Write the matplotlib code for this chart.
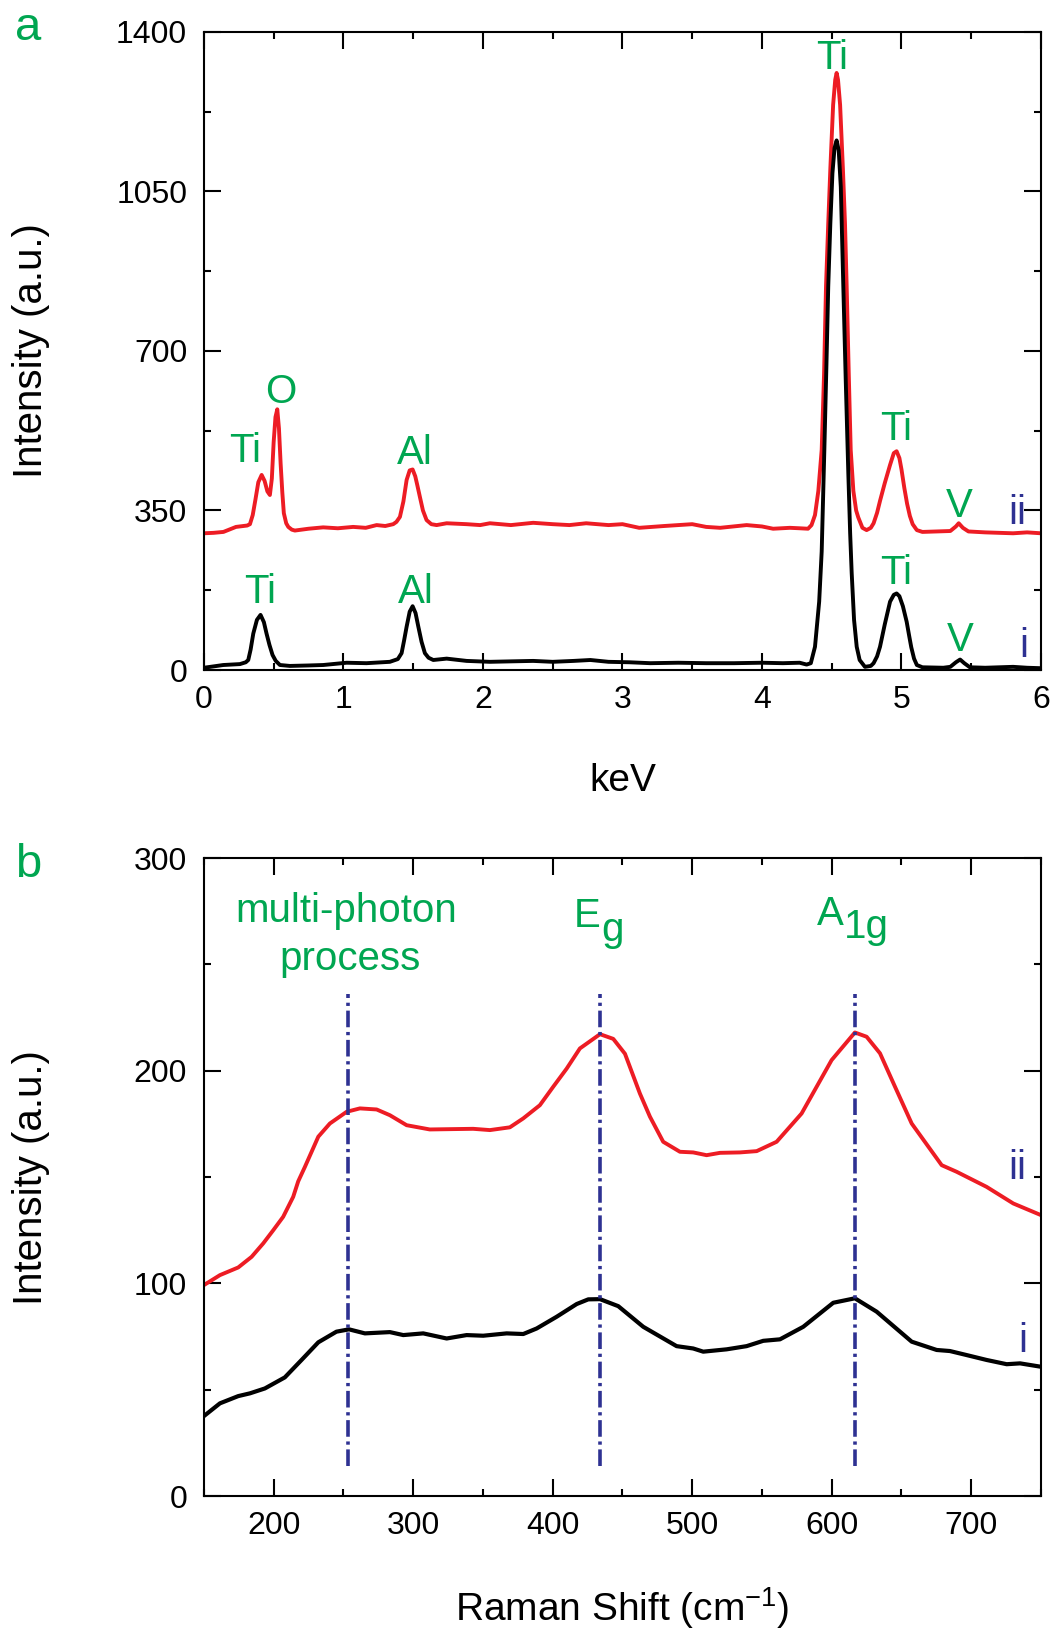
import numpy as np
import matplotlib.pyplot as plt
from matplotlib.ticker import MultipleLocator

plt.rcParams['font.family'] = ['Liberation Sans', 'DejaVu Sans']
plt.rcParams['mathtext.fontset'] = 'custom'
plt.rcParams['mathtext.rm'] = 'Liberation Sans'
plt.rcParams['mathtext.it'] = 'Liberation Sans:italic'
plt.rcParams['mathtext.bf'] = 'Liberation Sans:bold'
plt.rcParams['axes.unicode_minus'] = False

RED = '#ED1C24'
GREEN = '#00A651'
NAVY = '#2E3192'

# --- EDS spectra, sample ii (red) and sample i (black) ---
eds_kev_ii = [0.00, 0.07, 0.14, 0.23, 0.31, 0.33, 0.35, 0.37, 0.39, 0.414, 0.435,
              0.455, 0.473, 0.487, 0.50, 0.513, 0.526, 0.538, 0.55, 0.562, 0.573,
              0.59, 0.605, 0.63, 0.652, 0.75, 0.855, 0.96, 1.07, 1.16, 1.238, 1.30,
              1.357, 1.38, 1.405, 1.43, 1.453, 1.475, 1.496, 1.515, 1.53, 1.548,
              1.57, 1.596, 1.63, 1.668, 1.74, 1.883, 1.98, 2.05, 2.2, 2.36, 2.5,
              2.62, 2.74, 2.9, 3.0, 3.12, 3.3, 3.5, 3.6, 3.7, 3.89, 4.0, 4.08,
              4.2, 4.27, 4.33, 4.355, 4.38, 4.404, 4.428, 4.445, 4.459, 4.475,
              4.49, 4.51, 4.525, 4.535, 4.545, 4.56, 4.58, 4.595, 4.607, 4.622,
              4.636, 4.655, 4.675, 4.69, 4.72, 4.75, 4.78, 4.80, 4.825, 4.846,
              4.88, 4.918, 4.945, 4.965, 4.985, 5.00, 5.02, 5.04, 5.06, 5.08,
              5.11, 5.15, 5.25, 5.35, 5.39, 5.41, 5.44, 5.48, 5.6, 5.7, 5.8,
              5.9, 6.0]
eds_ii = [300, 301, 303, 314, 317, 320, 340, 375, 412, 428, 415,
          392, 384, 420, 500, 555, 572, 530, 453, 390, 344,
          322, 314, 308, 306, 310, 313, 311, 314, 312, 318, 316,
          320, 325, 336, 370, 417, 438, 440, 425, 405, 380,
          350, 329, 320, 318, 322, 320, 318, 322, 318, 323, 320,
          318, 322, 318, 320, 312, 316, 320, 314, 312, 318, 315, 310,
          312, 311, 310, 318, 340, 393, 483, 650, 842, 980,
          1100, 1240, 1295, 1310, 1295, 1240, 1100, 980, 842, 650,
          483, 393, 350, 335, 312, 307, 312, 322, 345, 371,
          410, 450, 476, 480, 465, 440, 400, 365, 338, 320,
          307, 303, 304, 305, 315, 322, 312, 304, 302, 301, 300,
          302, 300]

eds_kev_i = [0.00, 0.07, 0.139, 0.258, 0.30, 0.318, 0.335, 0.354, 0.38, 0.406,
             0.43, 0.449, 0.47, 0.492, 0.515, 0.545, 0.616, 0.75, 0.855, 1.023,
             1.165, 1.333, 1.39, 1.417, 1.435, 1.453, 1.475, 1.496, 1.517, 1.537,
             1.56, 1.584, 1.61, 1.644, 1.74, 1.883, 2.05, 2.2, 2.36, 2.5, 2.65,
             2.77, 2.9, 3.05, 3.2, 3.4, 3.6, 3.8, 4.0, 4.15, 4.27, 4.32, 4.35,
             4.38, 4.41, 4.428, 4.447, 4.462, 4.475, 4.49, 4.505, 4.52, 4.535,
             4.55, 4.565, 4.583, 4.60, 4.619, 4.632, 4.643, 4.66, 4.679, 4.70,
             4.738, 4.78, 4.80, 4.825, 4.846, 4.88, 4.918, 4.945, 4.965, 4.985,
             5.01, 5.037, 5.055, 5.07, 5.09, 5.11, 5.15, 5.3, 5.35, 5.39, 5.42,
             5.45, 5.49, 5.6, 5.8, 5.9, 6.0]
eds_i = [5, 8, 11, 13, 17, 22, 45, 80, 110, 121,
         105, 80, 55, 33, 20, 11, 9, 10, 11, 16,
         15, 18, 24, 37, 65, 95, 128, 140, 125, 95,
         62, 37, 27, 22, 25, 20, 18, 19, 20, 18, 20,
         22, 18, 17, 15, 16, 15, 15, 16, 15, 16, 12, 15,
         51, 150, 260, 483, 670, 842, 980, 1090, 1145, 1162,
         1140, 1060, 842, 640, 430, 300, 213, 110, 51, 22,
         7, 9, 15, 30, 51, 100, 150, 165, 168, 162,
         140, 106, 75, 50, 25, 11, 6, 5, 7, 17, 23,
         15, 6, 5, 7, 5, 4]

# --- Raman spectra ---
raman_shift_ii = [150, 161.5, 174.6, 184.2, 192.5, 199.7, 206.8, 214, 217.6, 222.4,
                  232, 240.3, 252.3, 261.8, 273.8, 283.3, 295.3, 311.9, 343, 355,
                  369.3, 378.9, 390.8, 400.4, 410, 419.5, 433.9, 443.4, 451.8, 462.5,
                  469.7, 479.2, 491.2, 500.7, 510.3, 519.9, 534.2, 546.2, 560.5,
                  578.4, 599.9, 616.6, 625, 634.6, 645, 657.3, 678.8, 689.5, 711,
                  730.1, 750]
raman_ii = [99.2, 103.9, 107.5, 112.5, 118.8, 125, 131.3, 140.7, 148, 154.8,
            169, 175.2, 180.7, 182.3, 181.8, 179.1, 174.4, 172.4, 172.7, 172.1,
            173.4, 177.6, 183.8, 192.5, 201, 210.5, 217.2, 215, 208, 189.3,
            178.4, 166.6, 161.9, 161.6, 160.3, 161.4, 161.6, 162.2, 166.6,
            179.9, 205, 218, 216, 208.2, 193, 175.2, 155.6, 152.5, 145.4,
            137.6, 132.1]

raman_shift_i = [150, 161.5, 174.6, 183, 193.7, 208, 220, 232, 245, 254, 265.4,
                 283.3, 292.9, 307.2, 324, 338.3, 350.2, 367, 378.9, 388.5, 402.8,
                 417.2, 425.5, 433.9, 447, 464.9, 488.8, 500.7, 507.9, 524.7, 539,
                 550.9, 562.9, 579.6, 601.1, 616.6, 632.2, 657.3, 675.2, 684.7,
                 696.7, 711, 725.4, 735, 750]
raman_i = [37.6, 43.6, 47, 48.3, 50.6, 55.8, 64, 72.3, 77.3, 78.4, 76.5,
           77.1, 75.7, 76.5, 74.1, 75.7, 75.4, 76.5, 76.2, 78.8, 84.3,
           90.3, 92.5, 92.6, 89.3, 79.6, 70.5, 69.4, 67.9, 69, 70.5,
           73, 73.7, 79.6, 90.9, 93, 86.7, 72.6, 68.7, 68.2,
           66.3, 64, 62, 62.4, 60.8]

raman_modes = [253, 434, 617]

fig = plt.figure(figsize=(10.51, 16.37), dpi=100)
ax1 = fig.add_axes([0.194, 0.5907, 0.7965, 0.3898])
ax2 = fig.add_axes([0.194, 0.0861, 0.7965, 0.3897])

LABEL_FS = 29


def style_axis(ax):
    for s in ax.spines.values():
        s.set_linewidth(1.5)
    ax.tick_params(which='both', direction='in', top=True, right=True,
                   width=1.5, labelsize=23)
    ax.tick_params(which='major', length=12)
    ax.tick_params(which='minor', length=5)
    ax.tick_params(axis='x', pad=11)
    ax.tick_params(axis='y', pad=12)


def mode_label(ax, x, y, main, sub):
    # big subscript, dropped below the baseline
    ax.text(x, y, main, color=GREEN, fontsize=LABEL_FS, ha='right', va='baseline')
    ax.annotate(sub, xy=(x, y), xytext=(0, -9.5), textcoords='offset points',
                color=GREEN, fontsize=LABEL_FS, ha='left', va='baseline')


# (a) EDS
ax1.plot(eds_kev_ii, eds_ii, color=RED, lw=2.8)
ax1.plot(eds_kev_i, eds_i, color='black', lw=2.8)
ax1.set_xlim(0, 6)
ax1.set_ylim(0, 1400)
ax1.xaxis.set_major_locator(MultipleLocator(1))
ax1.xaxis.set_minor_locator(MultipleLocator(0.5))
ax1.yaxis.set_major_locator(MultipleLocator(350))
ax1.yaxis.set_minor_locator(MultipleLocator(175))
style_axis(ax1)
ax1.set_xlabel('keV', fontsize=28)
ax1.set_ylabel('Intensity (a.u.)', fontsize=29)
ax1.xaxis.set_label_coords(0.5, -0.146)
ax1.yaxis.set_label_coords(-0.184, 0.5)

for txt, x, y in [('Ti', 0.294, 457), ('O', 0.554, 585), ('Al', 1.515, 453),
                  ('Ti', 4.505, 1318), ('Ti', 4.965, 504), ('V', 5.412, 336),
                  ('Ti', 0.406, 148), ('Al', 1.52, 148), ('Ti', 4.965, 188),
                  ('V', 5.42, 42)]:
    ax1.text(x, y, txt, color=GREEN, fontsize=LABEL_FS, ha='center', va='baseline')
ax1.text(5.83, 321, 'ii', color=NAVY, fontsize=LABEL_FS, ha='center', va='baseline')
ax1.text(5.873, 28, 'i', color=NAVY, fontsize=LABEL_FS, ha='center', va='baseline')

# (b) Raman
ax2.plot(raman_shift_ii, raman_ii, color=RED, lw=2.8)
ax2.plot(raman_shift_i, raman_i, color='black', lw=3.0)
ax2.vlines(raman_modes, 14, 236, colors=NAVY, lw=2.6,
           linestyles=[(0, (4.6, 1.3, 0.9, 1.3))])
ax2.set_xlim(150, 750)
ax2.set_ylim(0, 300)
ax2.xaxis.set_major_locator(MultipleLocator(100))
ax2.xaxis.set_minor_locator(MultipleLocator(50))
ax2.yaxis.set_major_locator(MultipleLocator(100))
ax2.yaxis.set_minor_locator(MultipleLocator(50))
style_axis(ax2)
ax2.set_xlabel('Raman Shift (cm$^{-1}$)', fontsize=28)
ax2.set_ylabel('Intensity (a.u.)', fontsize=29)
ax2.xaxis.set_label_coords(0.5, -0.139)
ax2.yaxis.set_label_coords(-0.184, 0.5)

ax2.text(252.3, 270, 'multi-photon', color=GREEN, fontsize=LABEL_FS, ha='center', va='baseline')
ax2.text(255, 247.3, 'process', color=GREEN, fontsize=LABEL_FS, ha='center', va='baseline')
mode_label(ax2, 434.6, 267.4, 'E', 'g')
mode_label(ax2, 608.8, 268.5, 'A', '1g')
ax2.text(733, 148.9, 'ii', color=NAVY, fontsize=LABEL_FS, ha='center', va='baseline')
ax2.text(736.8, 67.9, 'i', color=NAVY, fontsize=LABEL_FS, ha='center', va='baseline')

fig.text(0.0143, 0.9756, 'a', color=GREEN, fontsize=34, ha='left', va='baseline')
fig.text(0.0143, 0.4643, 'b', color=GREEN, fontsize=34, ha='left', va='baseline')

fig.savefig('out.png', dpi=100)
